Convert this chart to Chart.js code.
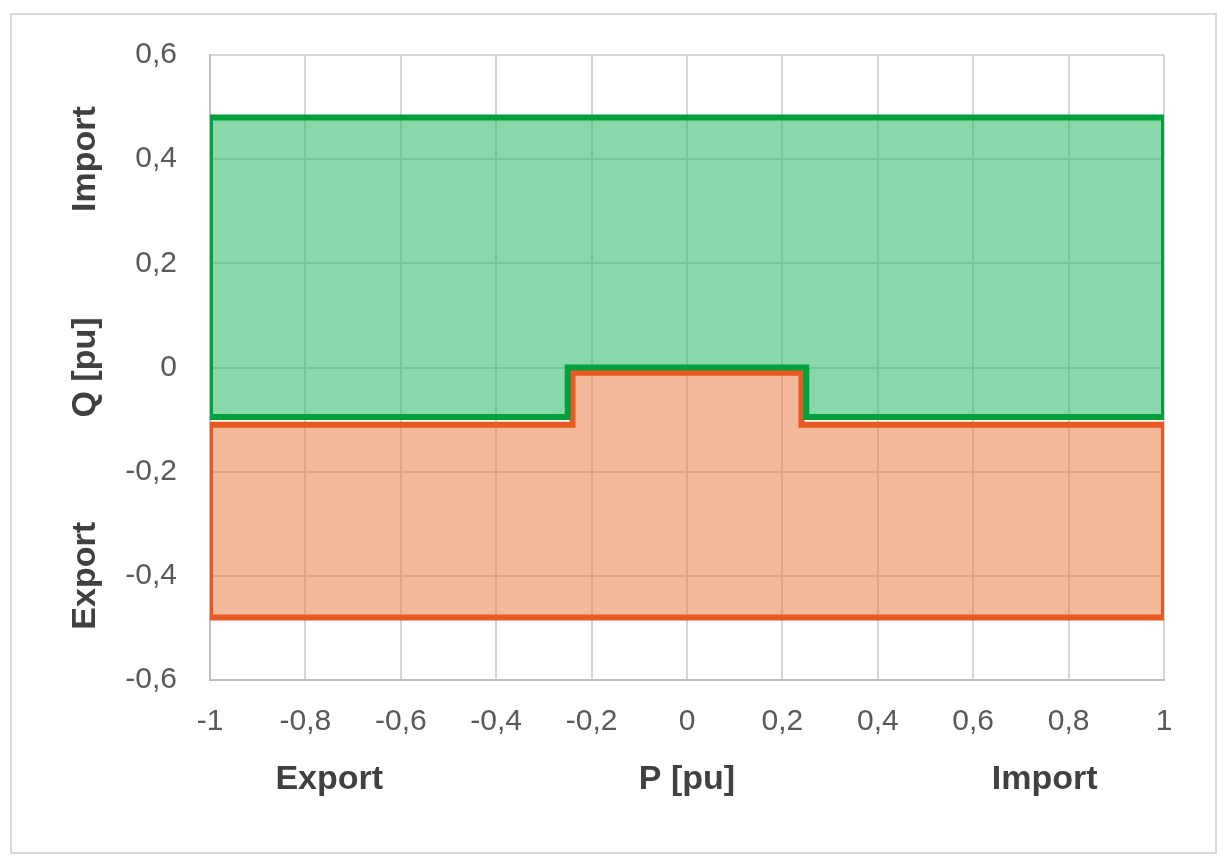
<!DOCTYPE html>
<html>
<head>
<meta charset="utf-8">
<script src="https://cdn.jsdelivr.net/npm/chart.js@4.4.1/dist/chart.umd.min.js"></script>
<style>
  html, body { margin: 0; padding: 0; background: #fff; }
  #frame { position: absolute; left: 10px; top: 13px; width: 1203px; height: 837px; border: 2px solid #d9d9d9; }
  #chart { display: block; }
</style>
</head>
<body>
<div id="frame"><canvas id="chart" width="1203" height="837"></canvas></div>
<script>
// ----- data (P, Q in pu) -----
const importP = [-1, -0.25, -0.25, 0.25, 0.25, 1, 1, -1, -1];
const importQ = [-0.095, -0.095, 0, 0, -0.095, -0.095, 0.48, 0.48, -0.095];
const exportP = [-1, -0.24, -0.24, 0.24, 0.24, 1, 1, -1, -1];
const exportQ = [-0.11, -0.11, -0.01, -0.01, -0.11, -0.11, -0.48, -0.48, -0.11];

const xTitleTexts = ['Export', 'P [pu]', 'Import'];
const xTitleAt = [-0.75, 0, 0.75];
const yTitleTexts = ['Import', 'Q [pu]', 'Export'];
const yTitleAt = [0.4, 0, -0.4];

const toPoints = (xs, ys) => xs.map((x, i) => ({ x: x, y: ys[i] }));
const fmt = v => String(+(+v).toFixed(1)).replace('.', ',');

// ----- axis titles drawn at scale values -----
const axisTitles = {
    id: 'axisTitles',
    afterDraw(chart) {
        const ctx = chart.ctx;
        const xs = chart.scales.x, ys = chart.scales.y;
        ctx.save();
        ctx.fillStyle = '#404040';
        ctx.font = 'bold 34px "Liberation Sans", Arial, sans-serif';
        ctx.textAlign = 'center';
        ctx.textBaseline = 'middle';
        xTitleTexts.forEach((t, i) => {
            ctx.fillText(t, xs.getPixelForValue(xTitleAt[i]), chart.chartArea.bottom + 100);
        });
        yTitleTexts.forEach((t, i) => {
            ctx.save();
            ctx.translate(74, ys.getPixelForValue(yTitleAt[i]));
            ctx.rotate(-Math.PI / 2);
            ctx.fillText(t, 0, 0);
            ctx.restore();
        });
        ctx.restore();
    }
};

const tickFont = { family: '"Liberation Sans", Arial, sans-serif', size: 30 };

new Chart(document.getElementById('chart'), {
    type: 'scatter',
    data: {
        datasets: [
            {
                label: 'Import',
                data: toPoints(importP, importQ),
                showLine: true,
                fill: 'shape',
                borderColor: '#00a03c',
                backgroundColor: 'rgba(39,184,99,0.55)',
                borderWidth: 6,
                pointRadius: 0,
                borderJoinStyle: 'miter'
            },
            {
                label: 'Export',
                data: toPoints(exportP, exportQ),
                showLine: true,
                fill: 'shape',
                borderColor: '#e85a22',
                backgroundColor: 'rgba(233,115,55,0.5)',
                borderWidth: 6,
                pointRadius: 0,
                borderJoinStyle: 'miter'
            }
        ]
    },
    options: {
        responsive: false,
        animation: false,
        layout: { padding: { top: 40, right: 51, left: 0, bottom: 0 } },
        plugins: { legend: { display: false }, tooltip: { enabled: false } },
        scales: {
            x: {
                type: 'linear',
                min: -1, max: 1,
                ticks: { stepSize: 0.2, callback: fmt, color: '#595959', font: tickFont, padding: 24, maxRotation: 0 },
                grid: { color: '#d6d6d6', lineWidth: 2, drawTicks: false },
                border: { color: '#bfbfbf', width: 2 },
                afterFit: s => { s.height = 172; s.paddingLeft = 0; s.paddingRight = 0; }
            },
            y: {
                type: 'linear',
                min: -0.6, max: 0.6,
                ticks: { stepSize: 0.2, callback: fmt, color: '#595959', font: tickFont, padding: 33 },
                grid: { color: '#d6d6d6', lineWidth: 2, drawTicks: false },
                border: { color: '#bfbfbf', width: 2 },
                afterFit: s => { s.width = 198; s.paddingTop = 0; s.paddingBottom = 0; }
            }
        }
    },
    plugins: [axisTitles]
});
</script>
</body>
</html>
